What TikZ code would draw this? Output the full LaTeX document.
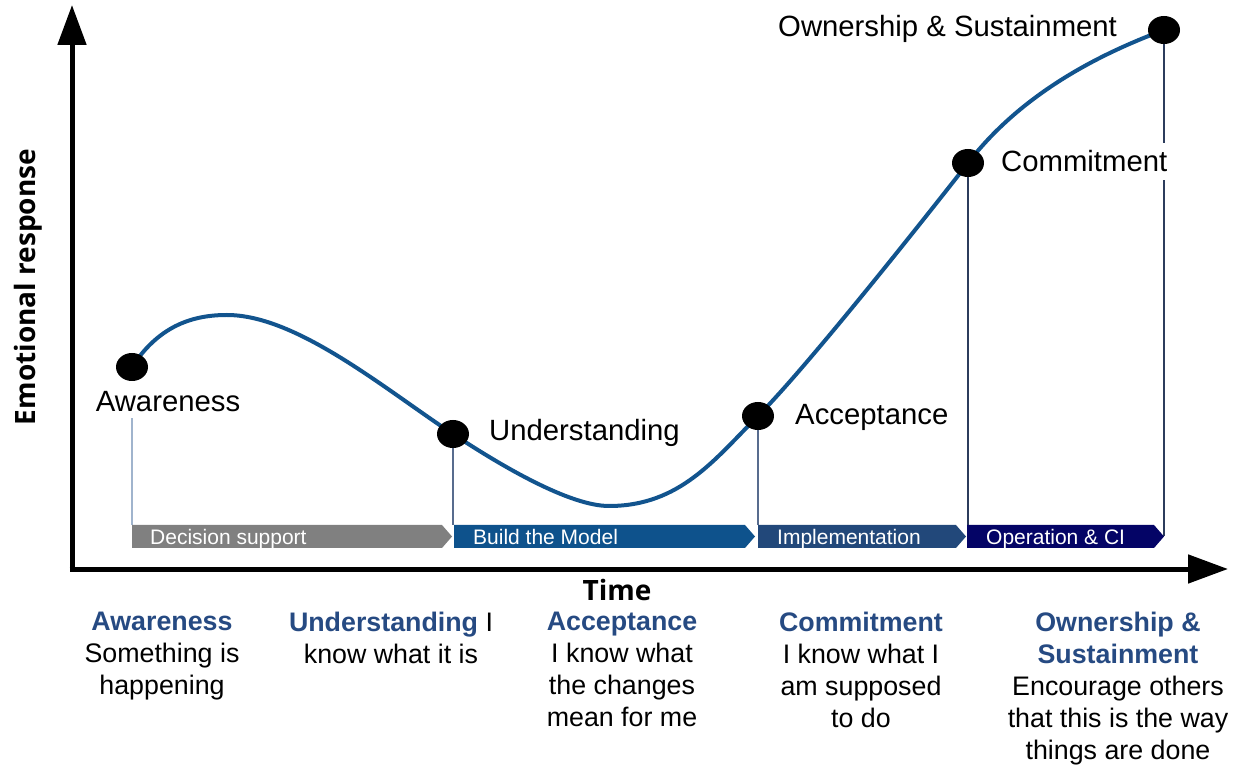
\documentclass[tikz,border=0pt]{standalone}
\usepackage{fontspec}
\setmainfont{Liberation Sans}
\newfontfamily\axisfont{Open Sans}
\usetikzlibrary{shapes.geometric, arrows.meta, positioning, calc}
\definecolor{curveblue}{RGB}{18,84,142}
\definecolor{phasegray}{RGB}{128,128,128}
\definecolor{phasemodel}{RGB}{14,82,140}
\definecolor{phaseimpl}{RGB}{34,72,122}
\definecolor{phaseops}{RGB}{4,4,102}
\definecolor{headblue}{RGB}{38,74,130}
\definecolor{guidelight}{RGB}{160,180,205}
\definecolor{guidemid}{RGB}{88,108,142}
\definecolor{guidedark}{RGB}{44,60,92}

\begin{document}
\begin{tikzpicture}[x=1pt, y=1pt,
  dot/.style={fill=black, ellipse, minimum width=32pt, minimum height=28pt, inner sep=0},
  stage/.style={font=\fontsize{29.3}{34}\selectfont, inner sep=0},
  bartext/.style={font=\fontsize{21}{25}\selectfont, text=white, inner sep=0, anchor=base west},
  axislabel/.style={font=\axisfont\bfseries\fontsize{28}{34}\selectfont},
  note/.style={font=\fontsize{26.8}{32}\selectfont, align=center, anchor=north, inner sep=0},
  guide/.style={line width=1.5pt},
  axis/.style={line width=5pt, -{Triangle[length=40pt, width=28pt]}}]

  \useasboundingbox (0,0) rectangle (1243,764);

  % Points on the curve
  \coordinate (pA) at (132,397);
  \coordinate (peak) at (227,449);
  \coordinate (pU) at (453,330);
  \coordinate (low) at (609,258);
  \coordinate (pAc) at (758,348);
  \coordinate (pC) at (968,601);
  \coordinate (pO) at (1164,734);
  \coordinate (bartop) at (0,239);
  \coordinate (barmid) at (0,227.5);

  % Stage labels on the curve
  \node[stage, anchor=base] (awl) at (168,352) {Awareness};
  \node[stage, anchor=base west] (unl) at (489,323) {Understanding};
  \node[stage, anchor=base west] (acl) at (795,339) {Acceptance};
  \node[stage, anchor=base west] (owl) at (778,727) {Ownership \& Sustainment};

  % Guide lines
  \draw[guide, guidelight] ([yshift=-6pt]pA |- awl.south) -- (pA |- bartop);
  \draw[guide, guidemid] (pU) -- (pU |- bartop);
  \draw[guide, guidemid] (pAc) -- (pAc |- bartop);
  \draw[guide, guidedark] (pC) -- (pC |- bartop);
  \draw[guide, guidedark] (pO) -- (pO |- barmid);

  \node[stage, anchor=base west, fill=white, inner ysep=8pt] (col) at (1001,592) {Commitment};

  % Phase bars
  \fill[phasegray] (132,216) -- (442,216) -- (452,227.5) -- (442,239) -- (132,239) -- cycle;
  \fill[phasemodel] (454,216) -- (745,216) -- (755,227.5) -- (745,239) -- (454,239) -- cycle;
  \fill[phaseimpl] (758,216) -- (956,216) -- (966,227.5) -- (956,239) -- (758,239) -- cycle;
  \fill[phaseops] (967,216) -- (1154,216) -- (1164,227.5) -- (1154,239) -- (967,239) -- cycle;
  \node[bartext] (bar1) at (150,219) {Decision support};
  \node[bartext] (bar2) at (473,219) {Build the Model};
  \node[bartext] (bar3) at (777,219) {Implementation};
  \node[bartext] (bar4) at (986,219) {Operation \& CI};

  % Emotional curve
  \draw[curveblue, line width=4pt]
    (pA) .. controls (160,440) and (195,449) .. (peak)
         .. controls (297,449) and (386,374) .. (pU)
         .. controls (503,297) and (570,258) .. (low)
         .. controls (680,258) and (715,305) .. (pAc)
         .. controls (807,397) and (925,546) .. (pC)
         .. controls (1025,675) and (1108,713) .. (pO);

  \node[dot] (aw) at (pA) {};
  \node[dot] (un) at (pU) {};
  \node[dot] (ac) at (pAc) {};
  \node[dot] (co) at (pC) {};
  \node[dot] (ow) at (pO) {};

  % Axes
  \coordinate (xstart) at (69.5,195);
  \coordinate (xend) at (1228,195);
  \coordinate (ystart) at (72,192.5);
  \coordinate (yend) at (72,759);
  \draw[axis] (ystart) -- (yend);
  \draw[axis] (xstart) -- (xend);
  \node[axislabel] (time) at (617,174) {Time};
  \node[axislabel, rotate=90] (emo) at (28,477) {Emotional response};

  % Stage notes
  \node[note] (n1) at (162,152) {{\bfseries\color{headblue}Awareness}\\Something is\\happening};
  \node[note] (n2) at (391,152) {{\bfseries\color{headblue}Understanding} I\\know what it is};
  \node[note] (n3) at (622,152) {{\bfseries\color{headblue}Acceptance}\\I know what\\the changes\\mean for me};
  \node[note] (n4) at (861,152) {{\bfseries\color{headblue}Commitment}\\I know what I\\am supposed\\to do};
  \node[note] (n5) at (1118,152) {{\bfseries\color{headblue}Ownership \&}\\{\bfseries\color{headblue}Sustainment}\\Encourage others\\that this is the way\\things are done};
\end{tikzpicture}
\end{document}
